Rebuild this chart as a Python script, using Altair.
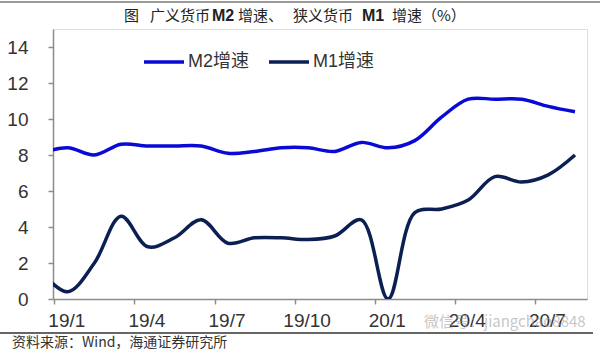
import altair as alt
import pandas as pd

# ---- data (monthly, index 0 = 2019/1; -1 = 2018/12 partially visible) ----
month_idx = list(range(-1, 20))
m2_growth = [8.1, 8.4, 8.0, 8.6, 8.5, 8.5, 8.5, 8.1, 8.2, 8.4, 8.4, 8.2, 8.7,
             8.4, 8.8, 10.1, 11.1, 11.1, 11.1, 10.7, 10.4]
m1_growth = [1.5, 0.4, 2.0, 4.6, 2.9, 3.4, 4.4, 3.1, 3.4, 3.4, 3.3, 3.5, 4.4,
             0.0, 4.8, 5.0, 5.5, 6.8, 6.5, 6.9, 8.0]
series_names = ["M2增速", "M1增速"]
series_colors = ["#0A0AD6", "#0B1F52"]
tick_labels = ["19/1", "19/4", "19/7", "19/10", "20/1", "20/4", "20/7"]
tick_positions = [-0.5 + 3 * i for i in range(len(tick_labels))]
y_ticks = [0, 2, 4, 6, 8, 10, 12, 14]

FONT = "Liberation Sans, Arial, Noto Sans CJK SC"
CJK = "Noto Sans CJK SC"

df = pd.DataFrame({"idx": month_idx, "M2增速": m2_growth, "M1增速": m1_growth})

label_expr = "[" + ",".join("'%s'" % t for t in tick_labels) + "][round((datum.value+0.5)/3)]"

lines = alt.Chart(df).transform_fold(series_names, as_=["series", "value"]).mark_line(
    interpolate="catmull-rom", strokeWidth=3.5, clip=True
).encode(
    x=alt.X("idx:Q", scale=alt.Scale(domain=[-0.55, 19.45], nice=False, zero=False),
            axis=alt.Axis(values=tick_positions, labelExpr=label_expr, title=None, grid=False,
                          tickSize=5, labelOffset=12, labelPadding=7, labelFlush=False,
                          labelOverlap=False, labelFontSize=19, labelFont=FONT,
                          labelColor="#333333", domainColor="#8c8c8c", tickColor="#8c8c8c",
                          domainWidth=1.5, tickWidth=1.5)),
    y=alt.Y("value:Q", scale=alt.Scale(domain=[0, 15], nice=False),
            axis=alt.Axis(values=y_ticks, title=None, grid=False, tickSize=5, labelPadding=20,
                          labelFontSize=19, labelFont=FONT, labelColor="#333333",
                          domainColor="#8c8c8c", tickColor="#8c8c8c",
                          domainWidth=1.5, tickWidth=1.5)),
    color=alt.Color("series:N", scale=alt.Scale(domain=series_names, range=series_colors),
                    sort=series_names,
                    legend=alt.Legend(title=None, orient="none", legendX=89, legendY=11,
                                      direction="horizontal", symbolType="stroke",
                                      symbolSize=1600, symbolStrokeWidth=3.5,
                                      labelFontSize=18, labelFont=FONT, labelColor="#333333",
                                      columnPadding=12, labelOffset=2)),
    detail="series:N",
)

# ---- title segments (pixel positions relative to plot origin) ----
title_normal = pd.DataFrame({
    "px": [124 - 53, 150 - 53, 238 - 53, 293 - 53, 392 - 53],
    "py": [-13] * 5,
    "t": ["图", "广义货币", "增速、", "狭义货币", "增速（%）"],
})
title_bold = pd.DataFrame({"px": [212 - 53, 362 - 53], "py": [-13, -13], "t": ["M2", "M1"]})

t_norm = alt.Chart(title_normal).mark_text(align="left", baseline="middle", fontSize=15,
                                           font=CJK, color="#222222").encode(
    x=alt.X("px:Q", scale=None), y=alt.Y("py:Q", scale=None), text="t:N")
t_bold = alt.Chart(title_bold).mark_text(align="left", baseline="middle", fontSize=16,
                                         font=FONT, fontWeight="bold", color="#222222").encode(
    x=alt.X("px:Q", scale=None), y=alt.Y("py:Q", scale=None), text="t:N")

notes = pd.DataFrame({
    "px": [12 - 53],
    "py": [343 - 29],
    "t": ["资料来源：Wind，海通证券研究所"],
})
source = alt.Chart(notes).mark_text(align="left", baseline="middle", fontSize=14,
                                    font=CJK, color="#333333").encode(
    x=alt.X("px:Q", scale=None), y=alt.Y("py:Q", scale=None), text="t:N")

wm = pd.DataFrame({"px": [424 - 53], "py": [322 - 29], "t": ["微信号：jiangchao8848"]})
watermark = alt.Chart(wm).mark_text(align="left", baseline="middle", fontSize=15,
                                    font=CJK, color="#9a9a9a", opacity=0.55).encode(
    x=alt.X("px:Q", scale=None), y=alt.Y("py:Q", scale=None), text="t:N")

one = pd.DataFrame({"a": [0]})
top_rule = alt.Chart(one).mark_rule(color="#7a7a7a", strokeWidth=1.5).encode(
    x=alt.value(-53), x2=alt.value(547), y=alt.value(-27))
bottom_rule = alt.Chart(one).mark_rule(color="#333333", strokeWidth=1.5).encode(
    x=alt.value(-53), x2=alt.value(540), y=alt.value(333 - 29))

chart = alt.layer(lines, top_rule, bottom_rule, t_norm, t_bold, source, watermark).properties(
    width=534, height=270,
    autosize=alt.AutoSizeParams(type="none"),
    padding={"left": 53, "top": 29, "right": 13, "bottom": 54},
).configure_view(stroke=None).configure(background="white")

chart.save("out.html", embed_options={"renderer": "svg", "actions": False})
